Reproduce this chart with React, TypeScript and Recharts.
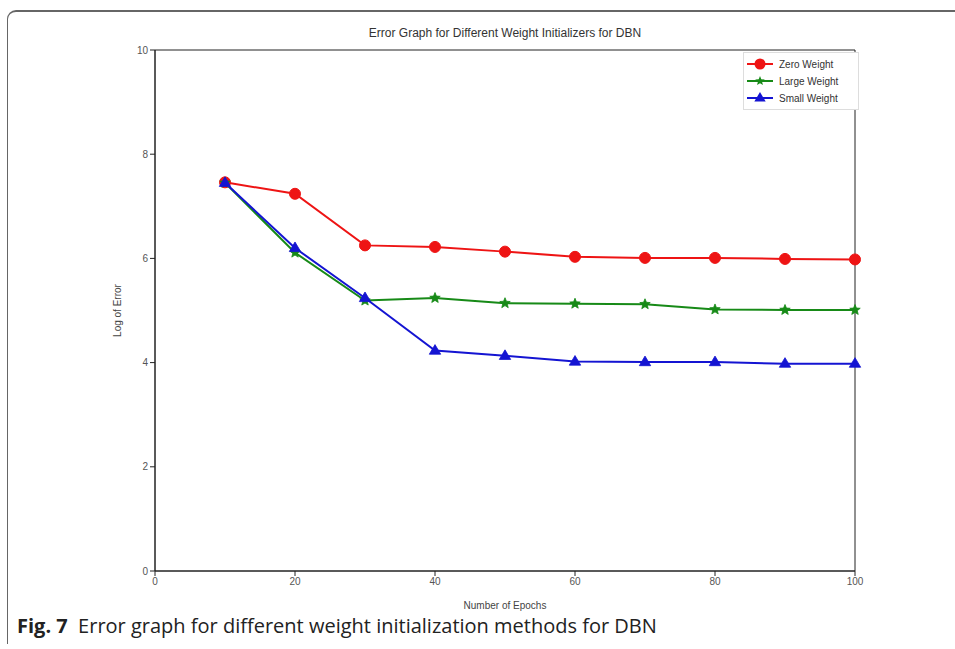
import React from "react";
import { LineChart, Line, XAxis, YAxis, ReferenceArea } from "recharts";

const epochs = [10, 20, 30, 40, 50, 60, 70, 80, 90, 100];
const zeroWeight = [7.46, 7.24, 6.25, 6.22, 6.13, 6.03, 6.01, 6.01, 5.99, 5.98];
const largeWeight = [7.45, 6.11, 5.19, 5.24, 5.14, 5.13, 5.12, 5.02, 5.01, 5.01];
const smallWeight = [7.45, 6.2, 5.24, 4.23, 4.13, 4.02, 4.01, 4.01, 3.98, 3.98];
const xTicks = [0, 20, 40, 60, 80, 100];
const yTicks = [0, 2, 4, 6, 8, 10];

const seriesNames = ["Zero Weight", "Large Weight", "Small Weight"];
const RED = "#ee1414";
const GREEN = "#178a17";
const BLUE = "#1414d2";

const data = epochs.map((e, i) => ({
  epoch: e,
  zero: zeroWeight[i],
  large: largeWeight[i],
  small: smallWeight[i],
}));

const starPath = (cx: number, cy: number, R: number, r: number) => {
  let d = "";
  for (let i = 0; i < 10; i++) {
    const rad = i % 2 === 0 ? R : r;
    const a = -Math.PI / 2 + (i * Math.PI) / 5;
    d += (i === 0 ? "M" : "L") + (cx + rad * Math.cos(a)).toFixed(2) + "," + (cy + rad * Math.sin(a)).toFixed(2);
  }
  return d + "Z";
};
const triPath = (cx: number, cy: number, R: number) =>
  `M${cx},${cy - R}L${cx + R * 0.95},${cy + R * 0.6}L${cx - R * 0.95},${cy + R * 0.6}Z`;

const CircleDot = (p: any) => <circle key={p.key ?? p.index} cx={p.cx} cy={p.cy} r={5.5} fill={RED} stroke={RED} />;
const StarDot = (p: any) => <path key={p.key ?? p.index} d={starPath(p.cx, p.cy, 5.5, 2.4)} fill={GREEN} stroke={GREEN} strokeWidth={0.8} />;
const TriDot = (p: any) => <path key={p.key ?? p.index} d={triPath(p.cx, p.cy, 6)} fill={BLUE} stroke={BLUE} strokeWidth={0.8} />;

const LegendBox = () => (
  <svg width={116} height={58} style={{ display: "block" }}>
    <rect x={0.5} y={0.5} width={115} height={57} fill="#fff" stroke="#ddd" />
    {[RED, GREEN, BLUE].map((c, i) => {
      const y = 12 + i * 17;
      return (
        <g key={i}>
          <line x1={4} x2={30} y1={y} y2={y} stroke={c} strokeWidth={2} />
          {i === 0 && <circle cx={17} cy={y} r={5.5} fill={c} />}
          {i === 1 && <path d={starPath(17, y, 5, 2.2)} fill={c} />}
          {i === 2 && <path d={triPath(17, y, 6)} fill={c} />}
          <text x={36} y={y + 3.5} fontSize={10} fill="#333" fontFamily="Liberation Sans, Arial, sans-serif">
            {seriesNames[i]}
          </text>
        </g>
      );
    })}
  </svg>
);

const tickStyle = { fontSize: 10, fill: "#555", fontFamily: "Liberation Sans, Arial, sans-serif" };

export default function App() {
  return (
    <div style={{ position: "absolute", left: 0, top: 0, width: 955, height: 649, background: "#fff", overflow: "hidden" }}>
      <div
        style={{
          position: "absolute",
          left: 7,
          top: 10,
          width: 960,
          height: 632,
          borderTop: "2px solid #666",
          borderLeft: "1.5px solid #666",
          borderTopLeftRadius: 9,
        }}
      />
      <div
        style={{
          position: "absolute",
          left: 0,
          top: 26,
          width: 1010,
          textAlign: "center",
          fontSize: 12,
          color: "#333",
          fontFamily: "Liberation Sans, Arial, sans-serif",
        }}
      >
        Error Graph for Different Weight Initializers for DBN
      </div>
      <div style={{ position: "absolute", left: 0, top: 0 }}>
        <LineChart width={955} height={649} data={data} margin={{ top: 50, right: 100, bottom: 48, left: 105 }}>
          <XAxis
            dataKey="epoch"
            type="number"
            domain={[0, 100]}
            ticks={xTicks}
            tick={tickStyle}
            tickSize={5}
            height={30}
            axisLine={{ stroke: "#222" }}
            tickLine={{ stroke: "#222" }}
            label={{ value: "Number of Epochs", position: "insideBottom", offset: -8, style: { ...tickStyle, fill: "#444" } }}
          />
          <YAxis
            type="number"
            domain={[0, 10]}
            ticks={yTicks}
            tick={tickStyle}
            tickSize={5}
            width={50}
            axisLine={{ stroke: "#222" }}
            tickLine={{ stroke: "#222" }}
            label={{ value: "Log of Error", angle: -90, position: "insideLeft", offset: 12, style: { ...tickStyle, fill: "#444", textAnchor: "middle" } }}
          />
          <ReferenceArea x1={0} x2={100} y1={0} y2={10} fill="none" stroke="#222" strokeWidth={1} ifOverflow="visible" />
          <Line dataKey="zero" name={seriesNames[0]} stroke={RED} strokeWidth={2} dot={CircleDot} isAnimationActive={false} />
          <Line dataKey="large" name={seriesNames[1]} stroke={GREEN} strokeWidth={2} dot={StarDot} isAnimationActive={false} />
          <Line dataKey="small" name={seriesNames[2]} stroke={BLUE} strokeWidth={2} dot={TriDot} isAnimationActive={false} />
        </LineChart>
      </div>
      <div style={{ position: "absolute", left: 743, top: 52 }}>
        <LegendBox />
      </div>
      <div
        style={{
          position: "absolute",
          left: 17,
          top: 614,
          fontSize: 20,
          lineHeight: "24px",
          color: "#222",
          fontFamily: "Open Sans, Noto Sans, sans-serif",
          whiteSpace: "nowrap",
        }}
      >
        <b>Fig. 7</b>&nbsp; Error graph for different weight initialization methods for DBN
      </div>
    </div>
  );
}
